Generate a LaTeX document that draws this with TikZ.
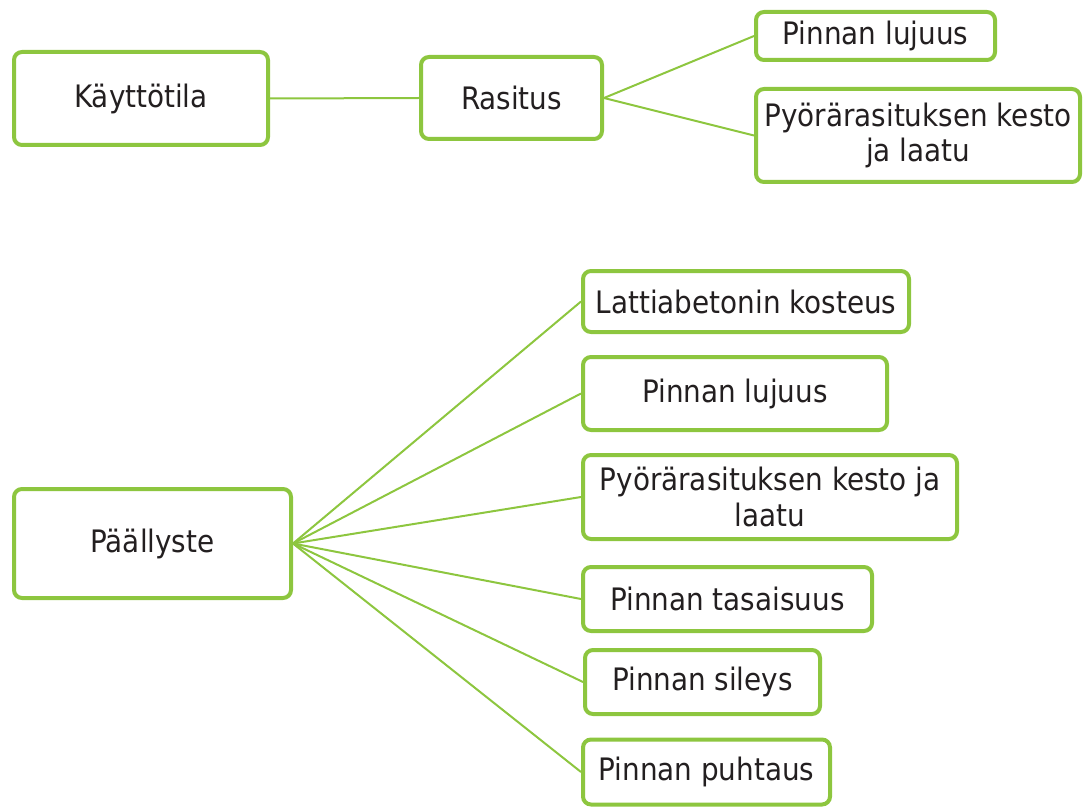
\documentclass[tikz,border=0pt]{standalone}
\usepackage{fontspec}
\setmainfont{DejaVu Sans Condensed}
\definecolor{lgreen}{RGB}{141,198,63}
\definecolor{txt}{RGB}{35,31,32}
\begin{document}
\begin{tikzpicture}[x=0.75pt,y=-0.75pt,
  box/.style={draw=lgreen, line width=3pt, rounded corners=6pt, fill=white,
    inner sep=0pt, align=center, text=txt, font=\fontsize{23.2}{26.5}\selectfont},
  link/.style={draw=lgreen, line width=1.5pt}]
\useasboundingbox (0,0) rectangle (1084,809);
% top group
\node[box, minimum width=254*0.75pt, minimum height=93*0.75pt] (K) at (141,98.5) {Käyttötila};
\node[box, minimum width=181*0.75pt, minimum height=82*0.75pt] (R) at (511.5,98) {Rasitus};
\node[box, minimum width=239*0.75pt, minimum height=48*0.75pt] (T1) at (875.5,36) {Pinnan lujuus};
\node[box, minimum width=324*0.75pt, minimum height=93*0.75pt] (T2) at (918,135.5) {Pyörärasituksen kesto\\ja laatu};
% bottom group
\node[box, minimum width=277*0.75pt, minimum height=109*0.75pt] (P) at (152.5,543.5) {Päällyste};
\node[box, minimum width=326*0.75pt, minimum height=61*0.75pt] (B1) at (746,301.5) {Lattiabetonin kosteus};
\node[box, minimum width=304*0.75pt, minimum height=73*0.75pt] (B2) at (735,393.5) {Pinnan lujuus};
\node[box, minimum width=374*0.75pt, minimum height=84*0.75pt] (B3) at (770,497) {Pyörärasituksen kesto ja\\laatu};
\node[box, minimum width=289*0.75pt, minimum height=64*0.75pt] (B4) at (727.5,599) {Pinnan tasaisuus};
\node[box, minimum width=235*0.75pt, minimum height=64*0.75pt] (B5) at (702.5,682) {Pinnan sileys};
\node[box, minimum width=247*0.75pt, minimum height=65*0.75pt] (B6) at (706.5,772) {Pinnan puhtaus};
% connectors
\draw[link] (K.east) -- (R.west);
\draw[link] (R.east) -- (T1.west);
\draw[link] (R.east) -- (T2.west);
\foreach \t in {B1,B2,B3,B4,B5,B6}
  \draw[link] (P.east) -- (\t.west);
\end{tikzpicture}
\end{document}
